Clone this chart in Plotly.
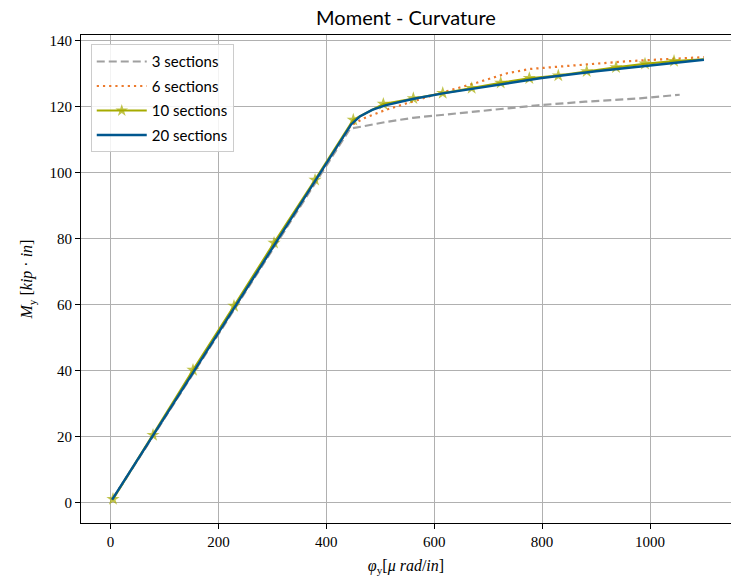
import plotly.graph_objects as go

# ---- data ----
x3 = [3, 444, 509, 560, 603, 700, 792, 880, 981, 1055]
y3 = [0.8, 113.3, 115.3, 116.6, 117.3, 119.0, 120.4, 121.5, 122.5, 123.6]

x6 = [3, 445, 470, 510, 549, 611, 680, 735, 777, 830, 883, 963, 1100]
y6 = [0.9, 114.2, 116.5, 119.0, 121.0, 124.1, 127.3, 130.1, 131.4, 132.2, 132.8, 133.8, 135.0]

x10 = [4.6, 78.8, 152.9, 228.9, 303.1, 379.1, 450.0, 505.7, 561.3, 615.8, 669.5,
       723.3, 776.3, 830.0, 882.7, 937.0, 990.7, 1044.5, 1100]
y10 = [1.1, 20.5, 40.2, 59.6, 78.7, 97.8, 116.0, 120.8, 122.5, 124.1, 125.6,
       127.2, 128.6, 129.4, 130.7, 131.9, 133.0, 133.8, 134.3]

x20 = [3, 446, 462, 485, 509, 560, 616, 700, 796, 900, 1000, 1100]
y20 = [0.9, 114.6, 117.0, 119.0, 120.4, 122.3, 124.0, 126.2, 128.6, 130.7, 132.5, 134.2]

names = ["3 sections", "6 sections", "10 sections", "20 sections"]

x_ticks = [0, 200, 400, 600, 800, 1000]
y_ticks = [0, 20, 40, 60, 80, 100, 120, 140]

GRAY = "#a0a0a0"
ORANGE = "#ec7a2c"
OLIVE = "#a6ab00"
BLUE = "#00578f"

fig = go.Figure()
fig.add_trace(go.Scatter(x=x3, y=y3, mode="lines", name=names[0], legendgroup="g3",
                         line=dict(color=GRAY, width=2.2, dash="8px,4px")))
fig.add_trace(go.Scatter(x=x6, y=y6, mode="lines", name=names[1], legendgroup="g6",
                         line=dict(color=ORANGE, width=2.2, dash="2.2px,4px")))
msizes = [10] * (len(x10) - 1) + [0]
fig.add_trace(go.Scatter(x=x10, y=y10, mode="lines+markers", name=names[2], legendgroup="g10",
                         line=dict(color=OLIVE, width=2.2),
                         marker=dict(symbol="star", size=msizes, color=OLIVE,
                                     line=dict(width=0))))
fig.add_trace(go.Scatter(x=x20, y=y20, mode="lines", name=names[3], legendgroup="g20",
                         line=dict(color=BLUE, width=2.4)))

serif = "Liberation Serif"
sans = "Lato"

fig.update_layout(
    width=731, height=584,
    margin=dict(l=81, r=0, t=35, b=61),
    paper_bgcolor="white", plot_bgcolor="white",
    title=dict(text="Moment - Curvature", x=0.5, xref="paper", xanchor="center",
               y=1 - 18 / 584, yanchor="middle",
               font=dict(family=sans, size=20, color="black")),
    showlegend=True,
    legend=dict(x=0.015, y=0.981, xanchor="left", yanchor="top",
                bgcolor="rgba(255,255,255,0.85)", bordercolor="#cccccc", borderwidth=1,
                font=dict(family=sans, size=15, color="black"),
                itemwidth=50, traceorder="grouped", tracegroupgap=2),
)

fig.update_xaxes(
    range=[-54.7, 1150.1], tickvals=x_ticks, ticktext=[str(v) for v in x_ticks],
    showgrid=True, gridcolor="#b0b0b0", gridwidth=1,
    showline=True, linecolor="black", linewidth=1.2, mirror=True,
    ticks="outside", ticklen=5, tickcolor="black", tickwidth=1,
    tickfont=dict(family=serif, size=15, color="black"),
    zeroline=False,
    title=dict(text="<i>φ</i><sub>y</sub>[<i>μ rad</i>/<i>in</i>]",
               font=dict(family=serif, size=16, color="black"), standoff=10),
)
fig.update_yaxes(
    range=[-6.15, 141.7], tickvals=y_ticks, ticktext=[str(v) for v in y_ticks],
    showgrid=True, gridcolor="#b0b0b0", gridwidth=1,
    showline=True, linecolor="black", linewidth=1.2, mirror=False,
    ticks="outside", ticklen=5, tickcolor="black", tickwidth=1,
    tickfont=dict(family=serif, size=15, color="black"),
    zeroline=False,
    title=dict(text="<i>M</i><sub>y</sub> [<i>kip</i> · <i>in</i>]",
               font=dict(family=serif, size=16, color="black"), standoff=12),
)

fig.write_html("out.html")
